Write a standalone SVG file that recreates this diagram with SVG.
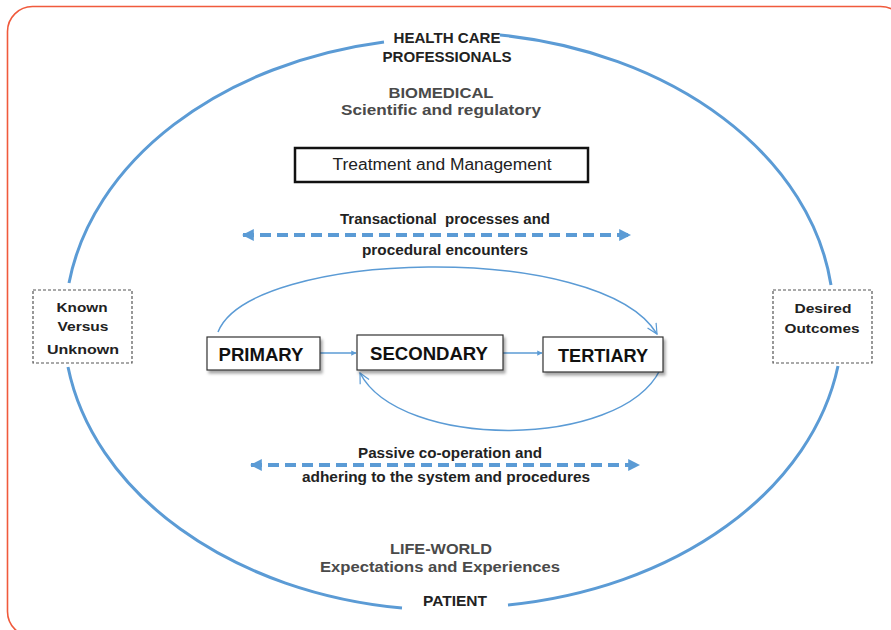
<svg xmlns="http://www.w3.org/2000/svg" width="891" height="630" viewBox="0 0 891 630">
<style>
.t{font-family:"Liberation Sans",Arial,sans-serif;font-weight:bold;fill:#222;text-anchor:middle}
.g{fill:#4a4a4a}
.n{font-size:18px;fill:#111}
.ell{fill:none;stroke:#5b9bd5;stroke-width:3}
.dash{fill:none;stroke:#5b9bd5;stroke-width:4;stroke-dasharray:11 6}
.thin{fill:none;stroke:#5b9bd5;stroke-width:1.5}
.node{fill:#fff;stroke:#333;stroke-width:1.2}
.db{fill:#fff;stroke:#555;stroke-width:1.2;stroke-dasharray:3 2}
</style>
<defs>
<marker id="tri" viewBox="0 0 10 10" refX="9" refY="5" markerWidth="3" markerHeight="3" orient="auto-start-reverse" markerUnits="strokeWidth"><path d="M0 0 L10 5 L0 10 Z" fill="#5b9bd5"/></marker>
<marker id="sm" viewBox="0 0 10 10" refX="9" refY="5" markerWidth="3.5" markerHeight="3.5" orient="auto" markerUnits="strokeWidth"><path d="M0 0 L10 5 L0 10 Z" fill="#5b9bd5"/></marker>
<marker id="open" viewBox="0 0 12 12" refX="11" refY="6" markerWidth="8" markerHeight="8" orient="auto" markerUnits="strokeWidth"><path d="M1 1 L11 6 L1 11" fill="none" stroke="#5b9bd5" stroke-width="1.2"/></marker>
<filter id="sh" x="-10%" y="-20%" width="130%" height="160%"><feDropShadow dx="2" dy="3" stdDeviation="1.5" flood-color="#000" flood-opacity="0.35"/></filter>
</defs>
<rect x="7.5" y="6.5" width="898" height="630" rx="25" fill="none" stroke="#f05a3c" stroke-width="1.6"/>

<g id="connectors">
<path class="ell" d="M 69 283 A 386 286 0 0 1 384 42"/>
<path class="ell" d="M 500 35 A 386 286 0 0 1 831 285"/>
<path class="ell" d="M 838 366 A 386 286 0 0 1 508 605"/>
<path class="ell" d="M 402 608 A 386 286 0 0 1 68 367"/>
<path class="dash" d="M 243 235 L 630 235" marker-start="url(#tri)" marker-end="url(#tri)"/>
<path class="dash" d="M 251 465 L 639 465" marker-start="url(#tri)" marker-end="url(#tri)"/>
<path class="thin" d="M 320 353 L 356 353" stroke-width="3" marker-end="url(#sm)"/>
<path class="thin" d="M 503 353 L 542 353" stroke-width="3" marker-end="url(#sm)"/>
<path class="thin" d="M 218 332 C 250 250 600 240 657 334" marker-end="url(#open)"/>
<path class="thin" d="M 660 370 C 620 450 400 450 360 373" marker-end="url(#open)"/>
</g>

<g id="hcp">
<text class="t" x="447" y="43" font-size="15" textLength="107" lengthAdjust="spacingAndGlyphs">HEALTH CARE</text>
<text class="t" x="447" y="62" font-size="15" textLength="129" lengthAdjust="spacingAndGlyphs">PROFESSIONALS</text>
</g>
<g id="biomedical">
<text class="t g" x="441" y="98" font-size="14" textLength="105" lengthAdjust="spacingAndGlyphs">BIOMEDICAL</text>
<text class="t g" x="441" y="115" font-size="14" textLength="200" lengthAdjust="spacingAndGlyphs">Scientific and regulatory</text>
</g>
<g id="treatment">
<rect x="295" y="148" width="293" height="34" fill="#fff" stroke="#111" stroke-width="2.5"/>
<text class="t" x="442" y="170" font-size="16" style="font-weight:normal" textLength="219" lengthAdjust="spacingAndGlyphs">Treatment and Management</text>
</g>
<g id="transactional">
<text class="t" x="445" y="224" font-size="14" textLength="210" lengthAdjust="spacingAndGlyphs" xml:space="preserve">Transactional  processes and</text>
<text class="t" x="445" y="255" font-size="14" textLength="166" lengthAdjust="spacingAndGlyphs">procedural encounters</text>
</g>
<g id="known">
<rect class="db" x="33" y="290" width="99" height="73"/>
<text class="t" x="82" y="312" font-size="13" textLength="51" lengthAdjust="spacingAndGlyphs">Known</text>
<text class="t" x="83" y="331" font-size="13" textLength="51" lengthAdjust="spacingAndGlyphs">Versus</text>
<text class="t" x="83" y="354" font-size="13" textLength="72" lengthAdjust="spacingAndGlyphs">Unknown</text>
</g>
<g id="desired">
<rect class="db" x="773" y="290" width="99" height="73"/>
<text class="t" x="823" y="313" font-size="13" textLength="57" lengthAdjust="spacingAndGlyphs">Desired</text>
<text class="t" x="822" y="333" font-size="13" textLength="75" lengthAdjust="spacingAndGlyphs">Outcomes</text>
</g>
<g id="primary">
<rect class="node" x="207" y="337" width="113" height="33" filter="url(#sh)"/>
<text class="t n" x="261" y="361" textLength="85" lengthAdjust="spacingAndGlyphs">PRIMARY</text>
</g>
<g id="secondary">
<rect class="node" x="357" y="335" width="146" height="35" filter="url(#sh)"/>
<text class="t n" x="429" y="360" textLength="118" lengthAdjust="spacingAndGlyphs">SECONDARY</text>
</g>
<g id="tertiary">
<rect class="node" x="543" y="337" width="120" height="35" filter="url(#sh)"/>
<text class="t n" x="603" y="362" textLength="90" lengthAdjust="spacingAndGlyphs">TERTIARY</text>
</g>
<g id="passive">
<text class="t" x="450" y="458" font-size="14" textLength="184" lengthAdjust="spacingAndGlyphs">Passive co-operation and</text>
<text class="t" x="446" y="482" font-size="14" textLength="288" lengthAdjust="spacingAndGlyphs">adhering to the system and procedures</text>
</g>
<g id="lifeworld">
<text class="t g" x="441" y="554" font-size="14" textLength="102" lengthAdjust="spacingAndGlyphs">LIFE-WORLD</text>
<text class="t g" x="440" y="572" font-size="14" textLength="240" lengthAdjust="spacingAndGlyphs">Expectations and Experiences</text>
</g>
<g id="patient">
<text class="t" x="455" y="606" font-size="15" textLength="64" lengthAdjust="spacingAndGlyphs">PATIENT</text>
</g>
</svg>
